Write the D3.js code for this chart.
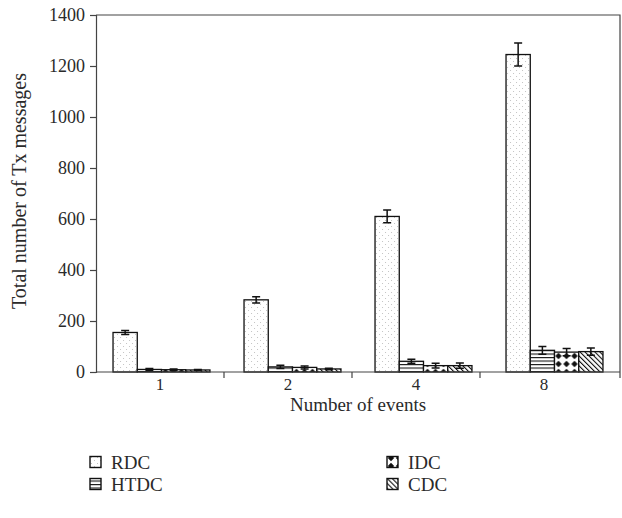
<!DOCTYPE html>
<html>
<head>
  <meta charset="utf-8">
  <title>Total number of Tx messages</title>
  <style>
    body { margin: 0; padding: 0; background: white; }
    svg text { font-family: "Liberation Serif", "DejaVu Serif", serif; fill: #2a2a2a; }
  </style>
</head>
<body>
  <div id="chart"></div>
  <script src="https://d3js.org/d3.v7.min.js"></script>
  <script>

  // chart data
  var categories = ["1", "2", "4", "8"]
  var series = ["RDC", "HTDC", "IDC", "CDC"]
  var rdc = [155, 283, 610, 1245]
  var rdcErr = [8, 12, 25, 45]
  var htdc = [10, 20, 42, 85]
  var htdcErr = [4, 6, 8, 15]
  var idc = [9, 18, 25, 78]
  var idcErr = [3, 6, 9, 14]
  var cdc = [8, 12, 25, 80]
  var cdcErr = [2, 3, 10, 14]
  var yTicks = [0, 200, 400, 600, 800, 1000, 1200, 1400]

  var values = [rdc, htdc, idc, cdc],
      errors = [rdcErr, htdcErr, idcErr, cdcErr]

  var width = 622,
      height = 518
  // plot area edges (not named top/left: those clash with window globals)
  var plotL = 96, plotR = 620, plotT = 15, plotB = 372

  var svg = d3.select("#chart").append("svg")
      .attr("width", width)
      .attr("height", height)

  // fill patterns for each series
  var defs = svg.append("defs")

  var dots = defs.append("pattern").attr("id", "p-RDC")
      .attr("patternUnits", "userSpaceOnUse").attr("width", 6).attr("height", 6)
  dots.append("rect").attr("width", 6).attr("height", 6).attr("fill", "white")
  dots.append("rect").attr("x", 1).attr("y", 1).attr("width", 1).attr("height", 1).attr("fill", "#c4c4c4")
  dots.append("rect").attr("x", 4).attr("y", 4).attr("width", 1).attr("height", 1).attr("fill", "#c4c4c4")

  var hlines = defs.append("pattern").attr("id", "p-HTDC")
      .attr("patternUnits", "userSpaceOnUse").attr("width", 4).attr("height", 3.5)
  hlines.append("rect").attr("width", 4).attr("height", 3.5).attr("fill", "white")
  hlines.append("rect").attr("y", 0).attr("width", 4).attr("height", 1.1).attr("fill", "#111")

  var diamonds = defs.append("pattern").attr("id", "p-IDC")
      .attr("patternUnits", "userSpaceOnUse").attr("width", 8).attr("height", 8)
  diamonds.append("rect").attr("width", 8).attr("height", 8).attr("fill", "white")
  diamonds.append("path").attr("d", "M4,0.8L7.2,4L4,7.2L0.8,4Z").attr("fill", "#111")

  var diag = defs.append("pattern").attr("id", "p-CDC")
      .attr("patternUnits", "userSpaceOnUse").attr("width", 3.5).attr("height", 3.5)
      .attr("patternTransform", "rotate(-45)")
  diag.append("rect").attr("width", 3.5).attr("height", 3.5).attr("fill", "white")
  diag.append("rect").attr("width", 1.1).attr("height", 3.5).attr("fill", "#111")

  // scales: bars use the full width, category ticks/labels sit on a slightly narrower band
  var x = d3.scaleBand()
      .domain(categories)
      .range([plotL, plotR])
      .paddingInner(0.26)
      .paddingOuter(0.13)

  var xLab = d3.scaleBand()
      .domain(categories)
      .range([plotL, 608])

  var xs = d3.scaleBand()
      .domain(series)
      .range([0, x.bandwidth()])

  var y = d3.scaleLinear()
      .domain([0, 1400])
      .range([plotB, plotT])

  // frame on top and right
  svg.append("path")
      .attr("d", "M" + plotL + "," + plotT + "H" + plotR + "V" + (plotB + 6))
      .attr("fill", "none").attr("stroke", "#444").attr("stroke-width", 1.2)

  // bars
  var rows = []
  categories.forEach(function (c, i) {
    series.forEach(function (s, j) {
      rows.push({cat: c, ser: s, v: values[j][i], e: errors[j][i]})
    })
  })

  var groups = svg.append("g").selectAll("g")
      .data(rows).enter().append("g")
      .attr("transform", function (d) { return "translate(" + (x(d.cat) + xs(d.ser)) + ",0)" })

  groups.append("rect")
      .attr("y", function (d) { return y(d.v) })
      .attr("width", xs.bandwidth())
      .attr("height", function (d) { return y(0) - y(d.v) })
      .attr("fill", function (d) { return "url(#p-" + d.ser + ")" })
      .attr("stroke", "#111")
      .attr("stroke-width", 1.3)

  // error bars
  var cx = xs.bandwidth() / 2
  groups.append("path")
      .attr("d", function (d) {
        var y1 = y(d.v + d.e), y0 = y(Math.max(0, d.v - d.e))
        return "M" + cx + "," + y0 + "V" + y1 +
          "M" + (cx - 4) + "," + y1 + "H" + (cx + 4) +
          "M" + (cx - 4) + "," + y0 + "H" + (cx + 4)
      })
      .attr("fill", "none").attr("stroke", "#111").attr("stroke-width", 1.5)

  // y axis
  var yAxis = svg.append("g")
      .attr("transform", "translate(" + plotL + ",0)")
      .call(d3.axisLeft(y).tickValues(yTicks).tickSize(6).tickPadding(5).tickFormat(d3.format("d")))
  yAxis.selectAll("path, line").attr("stroke", "#444").attr("stroke-width", 1.2)
  yAxis.selectAll("text").style("font-size", "18px").attr("fill", "#2a2a2a")

  // x axis with ticks between categories
  var xAxis = svg.append("g")
  xAxis.append("line")
      .attr("x1", plotL).attr("x2", plotR).attr("y1", plotB).attr("y2", plotB)
      .attr("stroke", "#444").attr("stroke-width", 1.2)
  xAxis.selectAll(".sep")
      .data(categories.slice(1)).enter().append("line")
      .attr("x1", function (d) { return xLab(d) })
      .attr("x2", function (d) { return xLab(d) })
      .attr("y1", plotB).attr("y2", plotB + 6)
      .attr("stroke", "#444").attr("stroke-width", 1.2)
  xAxis.selectAll(".lbl")
      .data(categories).enter().append("text")
      .attr("x", function (d) { return xLab(d) + xLab.bandwidth() / 2 })
      .attr("y", plotB + 18)
      .attr("text-anchor", "middle")
      .style("font-size", "17px")
      .text(function (d) { return d })

  // axis titles
  svg.append("text")
      .attr("x", 358)
      .attr("y", 411)
      .attr("text-anchor", "middle")
      .style("font-size", "19px")
      .text("Number of events")

  svg.append("text")
      .attr("transform", "translate(26," + 191 + ") rotate(-90)")
      .attr("text-anchor", "middle")
      .style("font-size", "20px")
      .text("Total number of Tx messages")

  // legend, two columns
  var legendPos = [[90, 462], [90, 484], [387, 462], [387, 484]]
  var legend = svg.append("g").selectAll("g")
      .data(series).enter().append("g")
      .attr("transform", function (d, i) { return "translate(" + legendPos[i][0] + "," + legendPos[i][1] + ")" })
  legend.append("rect")
      .attr("x", 0).attr("y", -5.5).attr("width", 11).attr("height", 11)
      .attr("fill", function (d) { return "url(#p-" + d + ")" })
      .attr("stroke", "#111").attr("stroke-width", 1.4)
  legend.append("text")
      .attr("x", 21).attr("y", 6.5)
      .style("font-size", "19px")
      .text(function (d) { return d })
  </script>
</body>
</html>
